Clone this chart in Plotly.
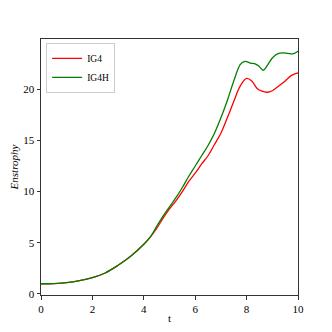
import plotly.graph_objects as go

# time and enstrophy
t_common = [0.0, 0.5, 1.0, 1.5, 2.0, 2.5, 3.0, 3.5, 4.0, 4.25]
e_common = [1.0, 1.02, 1.1, 1.3, 1.6, 2.05, 2.8, 3.7, 4.85, 5.55]

t_ig4 = [4.5, 4.75, 5.0, 5.25, 5.5, 5.75, 6.0, 6.25, 6.5, 6.75, 7.0, 7.25,
         7.5, 7.75, 8.0, 8.2, 8.4, 8.6, 8.8, 9.0, 9.25, 9.5, 9.75, 10.0]
e_ig4 = [6.4, 7.4, 8.3, 9.1, 10.0, 11.0, 11.8, 12.7, 13.5, 14.6, 15.7, 17.2,
         18.8, 20.3, 21.05, 20.8, 20.1, 19.8, 19.7, 19.85, 20.3, 20.8, 21.35, 21.6]

t_ig4h = [4.5, 4.75, 5.0, 5.25, 5.5, 5.75, 6.0, 6.25, 6.5, 6.75, 7.0, 7.25,
          7.5, 7.75, 7.9, 8.0, 8.15, 8.35, 8.5, 8.65, 8.8, 9.0, 9.2, 9.4,
          9.6, 9.8, 10.0]
e_ig4h = [6.6, 7.6, 8.5, 9.4, 10.4, 11.5, 12.5, 13.5, 14.5, 15.7, 17.2, 18.9,
          20.8, 22.4, 22.7, 22.7, 22.55, 22.45, 22.2, 21.85, 22.3, 23.05, 23.45, 23.55,
          23.5, 23.45, 23.7]

font = "'Liberation Serif', 'DejaVu Serif', serif"

fig = go.Figure()
fig.add_trace(go.Scatter(x=t_common + t_ig4, y=e_common + e_ig4, mode='lines', name='IG4',
                         line=dict(color='red', width=1.3, shape='spline')))
fig.add_trace(go.Scatter(x=t_common + t_ig4h, y=e_common + e_ig4h, mode='lines', name='IG4H',
                         line=dict(color='green', width=1.3, shape='spline')))

axis_common = dict(showgrid=False, zeroline=False, showline=True, linecolor='#333',
                   linewidth=1, mirror=True, ticks='outside', ticklen=3.5,
                   tickcolor='#333', automargin=False,
                   tickfont=dict(size=11, family=font, color='black'))

# page body has an 8px margin, so the figure is a bit smaller than the window
fig.update_layout(
    width=324, height=324,
    margin=dict(l=33, r=34, t=31, b=37),
    paper_bgcolor='white', plot_bgcolor='white',
    font=dict(family=font, color='black'),
    xaxis=dict(range=[0, 10], tickvals=[0, 2, 4, 6, 8, 10],
               title=dict(text='t', font=dict(size=11), standoff=0), **axis_common),
    yaxis=dict(range=[-0.1, 24.9], tickvals=[0, 5, 10, 15, 20],
               title=dict(text='<i>Enstrophy</i>', font=dict(size=11), standoff=2), **axis_common),
    legend=dict(x=0.02, y=0.985, xanchor='left', yanchor='top', bgcolor='white',
                bordercolor='#ccc', borderwidth=1, font=dict(size=9.5, family=font),
                tracegroupgap=0, itemwidth=30),
    showlegend=True,
)

fig.write_html("out.html")
